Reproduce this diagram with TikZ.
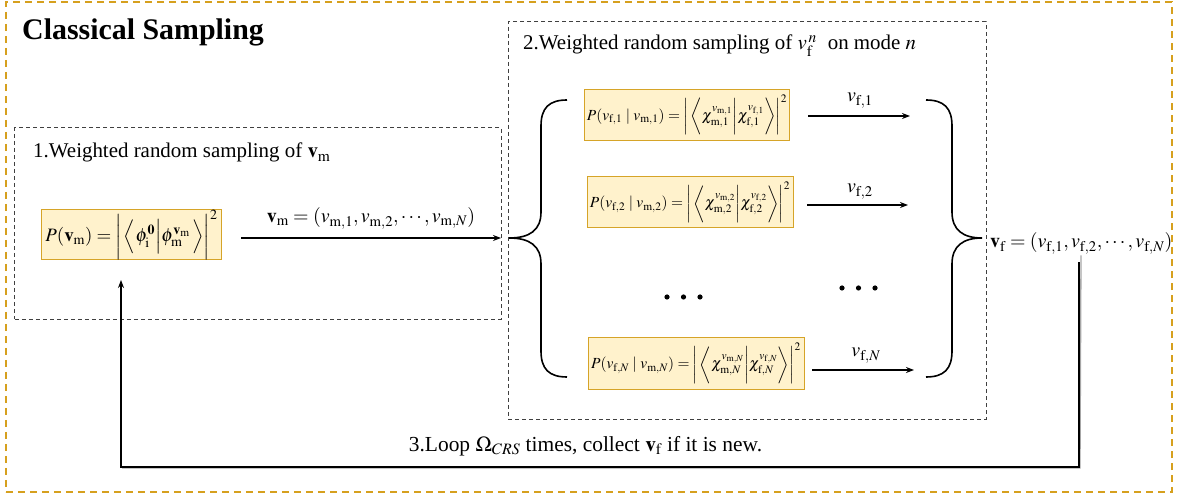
\documentclass[tikz,border=0pt]{standalone}
\usepackage{mathptmx}
\usepackage[no-math]{fontspec}
\setmainfont{Liberation Serif}
\usetikzlibrary{arrows.meta,calc}

\definecolor{gold}{RGB}{214,160,30}
\definecolor{fillY}{RGB}{255,242,204}
\definecolor{boxB}{RGB}{214,164,40}

\newcommand{\vst}[1]{\vcenter{\hbox{\rule{0pt}{#1}}}}

\tikzset{
 frame/.style={draw=gold, dash pattern=on 7bp off 5bp, line width=1.2bp, inner sep=0pt},
 region/.style={draw=black!75, dash pattern=on 4bp off 3bp, line width=1bp, inner sep=0pt},
 fbox/.style={draw=boxB, fill=fillY, line width=1bp, inner xsep=2bp, inner ysep=0pt},
 arr/.style={-{Stealth[length=8bp,width=6bp]}, line width=1.3bp},
 bracestyle/.style={line width=1.6bp},
 lbl/.style={font=\fontsize{20}{24}\selectfont, inner sep=0pt},
 tlbl/.style={font=\fontsize{21}{25}\selectfont, inner sep=0pt},
}

\begin{document}
\begin{tikzpicture}[x=1bp,y=-1bp]
\useasboundingbox (0,0) rectangle (1178,495);

% frames
\node[frame, minimum width=1166bp, minimum height=490bp] (frame) at (589,247) {};
\node[region, minimum width=486bp, minimum height=191bp] (r1) at (258,223.5) {};
\node[region, minimum width=478bp, minimum height=397bp] (r2) at (747,220.5) {};

% titles
\node[anchor=base west, font=\fontsize{30}{36}\selectfont\bfseries, inner sep=0pt] (title) at (22,40) {Classical Sampling};
\node[tlbl, anchor=base west] (t1) at (33,158) {1.Weighted random sampling of $\mathbf{v}_\mathrm{m}$};
\node[tlbl, anchor=base west] (t2) at (523,50) {2.Weighted random sampling of $v_\mathrm{f}^{\,n}$\; on mode $n$};

% formula boxes
\node[fbox, minimum width=179bp, minimum height=50bp, font=\fontsize{19}{23}\selectfont] (p1) at (131.5,235)
 {$P(\mathbf{v}_\mathrm{m}) = \left|\vst{39bp}\left\langle\vst{36bp} \phi_\mathrm{i}^{\mathbf{0}} \middle| \phi_\mathrm{m}^{\mathbf{v}_\mathrm{m}} \,\right\rangle\right|^2$};
\node[fbox, minimum width=198bp, minimum height=51bp, font=\fontsize{15.5}{18.5}\selectfont] (pa) at (687,115)
 {$P(v_{\mathrm{f},1}\mid v_{\mathrm{m},1}) = \left|\vst{37bp}\left\langle\vst{33bp} \chi_{\mathrm{m},1}^{v_{\mathrm{m},1}} \middle| \chi_{\mathrm{f},1}^{v_{\mathrm{f},1}} \right\rangle\right|^2$};
\node[fbox, minimum width=206bp, minimum height=51bp, font=\fontsize{15.5}{18.5}\selectfont] (pb) at (690,202.5)
 {$P(v_{\mathrm{f},2}\mid v_{\mathrm{m},2}) = \left|\vst{37bp}\left\langle\vst{33bp} \chi_{\mathrm{m},2}^{v_{\mathrm{m},2}} \middle| \chi_{\mathrm{f},2}^{v_{\mathrm{f},2}} \right\rangle\right|^2$};
\node[fbox, minimum width=216bp, minimum height=51bp, font=\fontsize{15.5}{18.5}\selectfont] (pn) at (696,363.5)
 {$P(v_{\mathrm{f},N}\mid v_{\mathrm{m},N}) = \left|\vst{37bp}\left\langle\vst{33bp} \chi_{\mathrm{m},N}^{v_{\mathrm{m},N}} \middle| \chi_{\mathrm{f},N}^{v_{\mathrm{f},N}} \right\rangle\right|^2$};

% vm arrow
\node[lbl, anchor=base] (vm) at (371,223) {$\mathbf{v}_\mathrm{m} = (v_{\mathrm{m},1}, v_{\mathrm{m},2}, \cdots, v_{\mathrm{m},N})$};
\coordinate (vmStart) at (241,238);
\coordinate (vmEnd) at (501,238);
\draw[arr] (vmStart) -- (vmEnd);

% mode arrows
\node[lbl, anchor=base] (la) at (860,102) {$v_{\mathrm{f},1}$};
\node[lbl, anchor=base] (lb) at (860,193) {$v_{\mathrm{f},2}$};
\node[lbl, anchor=base] (ln) at (866,357) {$v_{\mathrm{f},N}$};
\coordinate (sa) at (808,116);
\coordinate (sb) at (807,205);
\coordinate (sn) at (812,370);
\coordinate (ea) at (910,116);
\coordinate (eb) at (908,205);
\coordinate (en) at (914,370);
\draw[arr] (sa) -- (ea);
\draw[arr] (sb) -- (eb);
\draw[arr] (sn) -- (en);

% dots
\foreach \x in {667,683.5,700} \fill (\x,297) circle (2.6bp);
\foreach \x in {842,858.5,875} \fill (\x,288) circle (2.6bp);

% braces
\coordinate (lbTip) at (509,238);
\coordinate (rbTip) at (982,238);
\draw[bracestyle] (567,100) .. controls (549,100) and (541,108) .. (541,126) -- (541,212)
  .. controls (541,230) and (530,238) .. (lbTip)
  .. controls (530,238) and (541,246) .. (541,264) -- (541,351)
  .. controls (541,369) and (549,377) .. (567,377);
\draw[bracestyle] (926,100) .. controls (944,100) and (952,108) .. (952,126) -- (952,212)
  .. controls (952,230) and (963,238) .. (rbTip)
  .. controls (963,238) and (952,246) .. (952,264) -- (952,351)
  .. controls (952,369) and (944,377) .. (926,377);

% vf
\node[lbl, anchor=base west] (vf) at (990,248) {$\mathbf{v}_\mathrm{f} = (v_{\mathrm{f},1}, v_{\mathrm{f},2}, \cdots, v_{\mathrm{f},N})$};

% loop
\coordinate (lr) at (1079,467);
\coordinate (ll) at (121,467);
\coordinate (lt) at (121,280);
\draw[line width=1.3bp, black!35] ([xshift=1bp,yshift=-1bp]vf.south -| lr) ++(1,0) -- ([xshift=1bp,yshift=-1bp]lr) -- ([xshift=1bp,yshift=-1bp]ll);
\draw[arr] ([yshift=-8bp]vf.south -| lr) -- (lr) -- (ll) -- (lt);
\node[font=\fontsize{21.5}{26}\selectfont, inner sep=0pt, anchor=base] (loop) at (585.5,451) {3.Loop $\Omega_{CRS}$ times, collect $\mathbf{v}_\mathrm{f}$ if it is new.};
\end{tikzpicture}
\end{document}
